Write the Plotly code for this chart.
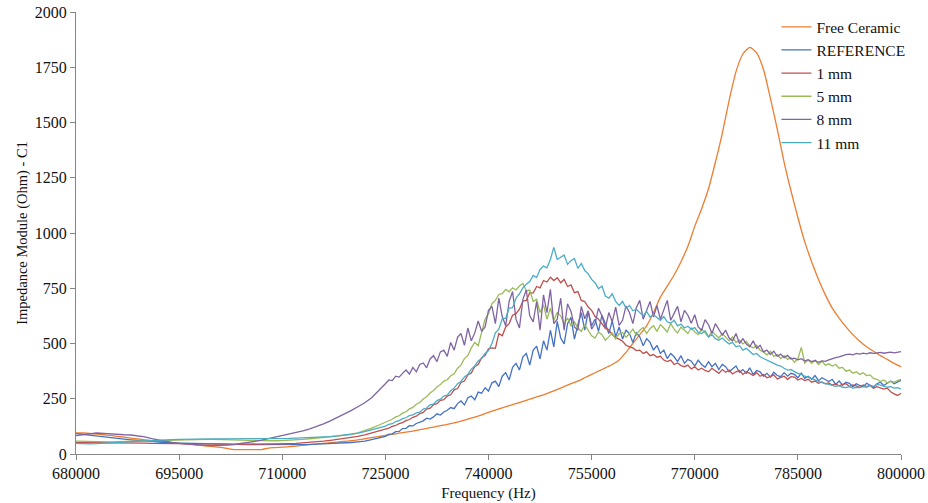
import plotly.graph_objects as go

# Free-ceramic sweep: 680 kHz to 800 kHz in 1 kHz steps
freq_free_hz = list(range(680000, 800001, 1000))
# Mounted-sample sweeps: 1 kHz steps up to 724 kHz, then 500 Hz steps
freq_hz = list(range(680000, 724001, 1000)) + list(range(724500, 800001, 500))

free_ceramic = [
    96, 95, 93, 90, 87, 84, 80, 76, 72, 68, 64, 60, 57, 54, 51, 48, 45, 42, 39, 36,
    33, 30, 25, 20, 20, 20, 20, 20, 27, 29, 31, 33, 36, 39, 42, 45, 48, 51, 54, 57,
    60, 64, 69, 74, 79, 84, 89, 94, 99, 104, 110, 116, 122, 128, 134, 141, 149, 158, 167, 177,
    188, 199, 209, 219, 228, 238, 248, 258, 268, 280, 292, 305, 318, 330, 345, 360, 375, 390, 405, 425,
    460, 500, 540, 580, 640, 710, 760, 810, 870, 940, 1030, 1110, 1200, 1320, 1450, 1600, 1730, 1810, 1840, 1815,
    1740, 1610, 1470, 1320, 1190, 1070, 960, 870, 790, 720, 660, 615, 575, 540, 510, 485, 465, 445, 428, 410,
    395,
]

reference = [
    92, 88, 85, 82, 78, 74, 70, 67, 64, 61, 58, 56, 54, 52, 50, 49, 48, 47, 46, 45,
    44, 44, 43, 43, 42, 42, 42, 42, 41, 41, 41, 42, 42, 43, 44, 45, 46, 47, 48, 50,
    52, 55, 58, 65, 72,
    78, 80, 90, 91, 101, 102, 115, 116, 128, 127,
    138, 145, 150, 162, 158, 168, 182, 176, 190, 198,
    210, 205, 228, 240, 222, 255, 262, 245, 280, 275,
    300, 285, 322, 330, 305, 352, 368, 335, 392, 410,
    380, 440, 455, 402, 470, 488, 430, 512, 470, 560,
    485, 600, 525, 498, 590, 618, 520, 585, 640, 560,
    645, 580, 610, 555, 628, 590, 545, 602, 530, 575,
    520, 560, 545, 505, 548, 530, 490, 522, 505, 470,
    492, 455, 470, 432, 455, 440, 418, 445, 410, 428,
    420, 398, 425, 405, 392, 418, 395, 410, 382, 405,
    395, 372, 385, 398, 370, 382, 365, 390, 360, 378,
    372, 352, 365, 348, 370, 355, 350, 368, 352, 365,
    360, 345, 366, 342, 352, 338, 355, 332, 345, 336,
    328, 338, 315, 330, 312, 325, 320, 305, 318, 310,
    305, 320, 310, 302, 318, 325, 310, 322, 330, 318,
    326, 334,
]

mm_1 = [
    52, 52, 51, 51, 50, 50, 50, 50, 49, 49, 49, 48, 48, 48, 48, 47, 47, 47, 46, 46,
    45, 45, 45, 44, 44, 44, 44, 44, 45, 45, 46, 47, 48, 50, 52, 55, 58, 62, 66, 70,
    75, 80, 87, 95, 104,
    107, 114, 117, 125, 129, 137, 142, 151, 156, 166,
    171, 183, 188, 203, 207, 223, 228, 243, 246, 262,
    268, 290, 296, 324, 330, 358, 366, 396, 405, 436,
    446, 476, 480, 478, 545, 535, 575, 590, 628, 635,
    655, 692, 695, 730, 728, 758, 752, 785, 778, 800,
    785, 798, 775, 790, 758, 765, 730, 735, 695, 690,
    665, 650, 622, 610, 590, 568, 562, 540, 525, 520,
    510, 492, 485, 480, 468, 470, 455, 462, 445, 450,
    438, 442, 425, 418, 425, 405, 412, 400, 395, 402,
    385, 395, 380, 388, 378, 372, 388, 375, 365, 382,
    370, 380, 362, 372, 378, 360, 372, 365, 355, 368,
    352, 360, 345, 350, 358, 340, 346, 352, 338, 350,
    348, 335, 342, 332, 338, 325, 330, 320, 326, 318,
    322, 312, 318, 308, 315, 318, 305, 312, 308, 302,
    312, 305, 310, 298, 305, 300, 294, 298, 282, 272,
    265, 275,
]

mm_5 = [
    58, 57, 56, 55, 55, 55, 56, 57, 58, 59, 60, 61, 62, 63, 64, 65, 65, 66, 66, 66,
    66, 66, 65, 64, 63, 62, 61, 60, 60, 60, 61, 62, 64, 66, 69, 72, 76, 80, 84, 86,
    88, 96, 106, 117, 130,
    137, 142, 152, 157, 168, 173, 185, 191, 204, 211,
    225, 233, 249, 259, 276, 287, 303, 314, 330, 336,
    354, 363, 388, 402, 432, 446, 480, 505, 490, 555,
    610, 635, 680, 695, 722, 726, 745, 734, 752, 742,
    760, 772, 738, 742, 690, 700, 640, 675, 610, 660,
    605, 640, 625, 588, 615, 580, 598, 570, 555, 585,
    560, 535, 525, 552, 540, 515, 530, 548, 520, 545,
    550, 528, 545, 565, 538, 560, 572, 545, 568, 580,
    555, 585, 570, 552, 590, 565, 548, 575, 560, 545,
    570, 552, 540, 565, 548, 530, 555, 540, 525, 545,
    528, 512, 530, 505, 515, 498, 510, 490, 480, 492,
    470, 462, 448, 465, 442, 450, 432, 445, 428, 436,
    415, 430, 482, 412, 425, 410, 424, 405, 420, 402,
    408, 398, 405, 388, 392, 375, 380, 365, 372, 360,
    368, 355, 358, 342, 338, 328, 335, 322, 328, 325,
    332, 338,
]

mm_8 = [
    83, 86, 90, 95, 93, 90, 88, 87, 86, 82, 77, 70, 63, 57, 52, 48, 45, 42, 40, 39,
    38, 38, 40, 43, 47, 52, 57, 63, 70, 76, 82, 89, 97, 105, 114, 124, 136, 150, 165, 180,
    196, 214, 232, 255, 285,
    300, 318, 335, 332, 352, 348, 365, 380, 362, 392,
    372, 405, 412, 390, 430, 445, 418, 462, 470, 442,
    505, 470, 528, 545, 492, 570, 512, 548, 602, 555,
    575, 650, 668, 590, 705, 622, 580, 690, 735, 610,
    570, 700, 742, 625, 598, 690, 560, 720, 640, 745,
    590, 610, 705, 560, 680, 645, 575, 560, 668, 612,
    648, 565, 590, 660, 625, 570, 640, 598, 665, 582,
    605, 670, 640, 590, 662, 695, 610, 655, 690, 620,
    672, 610, 650, 695, 605, 640, 668, 598, 650, 628,
    592, 630, 575, 560, 608, 585, 545, 590, 562, 538,
    560, 525, 512, 545, 500, 522, 498, 485, 512, 478,
    492, 462, 470, 450, 465, 442, 452, 436, 446, 430,
    434, 426, 431, 421, 427, 418, 423, 415, 421, 419,
    426, 432, 436, 440, 446, 450, 452, 449, 455, 452,
    456, 453, 458, 455, 457, 460, 456, 459, 461, 458,
    462, 463,
]

mm_11 = [
    48, 46, 46, 47, 48, 50, 52, 54, 56, 58, 60, 62, 63, 64, 65, 66, 67, 68, 68, 68,
    68, 68, 68, 68, 68, 68, 68, 68, 68, 69, 70, 71, 72, 73, 74, 75, 77, 79, 82, 85,
    89, 94, 101, 109, 118,
    123, 126, 134, 137, 147, 151, 160, 164, 174, 177,
    186, 189, 203, 208, 222, 226, 242, 248, 262, 266,
    286, 298, 318, 328, 349, 360, 384, 398, 421, 432,
    455, 468, 500, 548, 565, 612, 615, 660, 662, 705,
    725, 752, 768, 780, 808, 798, 835, 850, 842, 880,
    935, 880, 890, 900, 858, 875, 885, 840, 862, 830,
    815, 790, 775, 748, 760, 715, 705, 725, 690, 672,
    690, 660, 672, 648, 655, 640, 625, 645, 620, 630,
    618, 605, 622, 598, 592, 605, 580, 588, 570, 578,
    565, 572, 550, 545, 558, 530, 540, 522, 515, 525,
    510, 498, 505, 485, 490, 470, 478, 462, 450, 455,
    440, 432, 425, 420, 410, 402, 398, 388, 380, 382,
    372, 365, 360, 352, 348, 340, 335, 328, 322, 318,
    315, 312, 306, 310, 302, 300, 305, 298, 302, 300,
    305, 302, 310, 306, 315, 312, 308, 302, 305, 298,
    300, 295,
]

series_names = ["Free Ceramic", "REFERENCE", "1 mm", "5 mm", "8 mm", "11 mm"]
series_x = [freq_free_hz, freq_hz, freq_hz, freq_hz, freq_hz, freq_hz]
series_values = [free_ceramic, reference, mm_1, mm_5, mm_8, mm_11]
series_colors = ["#ED7D31", "#4472C4", "#C0504D", "#9BBB59", "#8064A2", "#4BACC6"]
series_shapes = ["spline", "linear", "linear", "linear", "linear", "linear"]

x_ticks = list(range(680000, 800001, 15000))
y_ticks = list(range(0, 2001, 250))

FONT = "Liberation Serif, Times New Roman, serif"

fig = go.Figure()
for name, xs, vals, color, shape in zip(series_names, series_x, series_values,
                                        series_colors, series_shapes):
    fig.add_trace(go.Scatter(
        x=xs, y=vals, name=name, mode="lines",
        line=dict(color=color, width=1.3, shape=shape, smoothing=0.6),
        legendgroup=name,
    ))

axis_common = dict(
    showgrid=False, zeroline=False, showline=True, automargin=False,
    linecolor="#868686", linewidth=1.2,
    ticks="outside", ticklen=5, tickcolor="#868686", tickwidth=1.2,
    tickfont=dict(family=FONT, size=16, color="#111"),
)

fig.update_layout(
    width=928, height=503,
    margin=dict(l=76, r=27, t=12, b=49, autoexpand=False),
    paper_bgcolor="white", plot_bgcolor="white",
    font=dict(family=FONT, size=15, color="#111"),
    xaxis=dict(
        range=[680000, 800000], tickvals=x_ticks, tickformat="d",
        title=dict(text="Frequency (Hz)", font=dict(family=FONT, size=15), standoff=6),
        **axis_common,
    ),
    yaxis=dict(
        range=[0, 2000], tickvals=y_ticks, tickformat="d",
        title=dict(text="Impedance Module (Ohm) - C1", font=dict(family=FONT, size=14.5), standoff=3),
        **axis_common,
    ),
    legend=dict(
        x=0.849, y=1.004, xanchor="left", yanchor="top",
        bgcolor="rgba(0,0,0,0)", font=dict(family=FONT, size=15.5, color="#111"),
        traceorder="grouped", tracegroupgap=0, itemwidth=30,
    ),
    showlegend=True,
)

fig.write_html("out.html")
